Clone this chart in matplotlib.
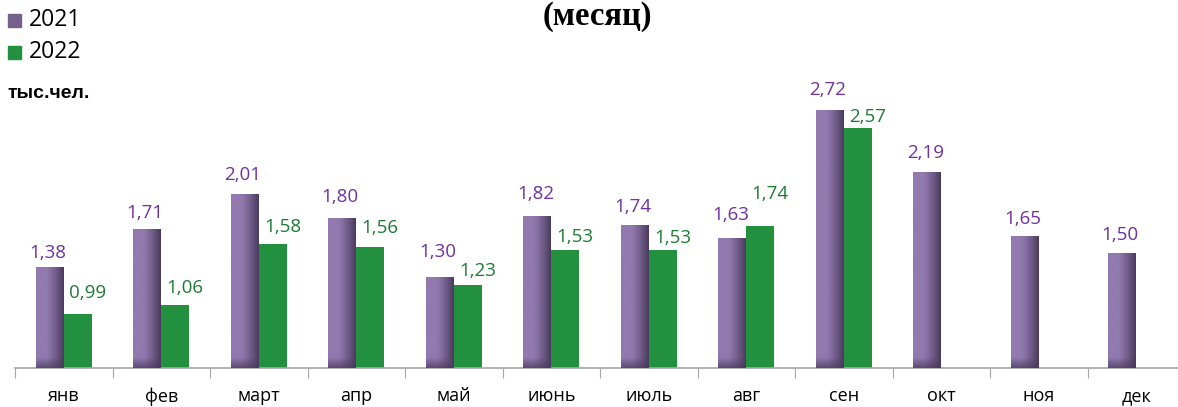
import matplotlib
matplotlib.use('Agg')
import matplotlib.pyplot as plt
import numpy as np

# data
months = ['янв', 'фев', 'март', 'апр', 'май', 'июнь', 'июль', 'авг', 'сен', 'окт', 'ноя', 'дек']
vals_2021 = [1.38, 1.71, 2.01, 1.80, 1.30, 1.82, 1.74, 1.63, 2.72, 2.19, 1.65, 1.50]
vals_2022 = [0.99, 1.06, 1.58, 1.56, 1.23, 1.53, 1.53, 1.74, 2.57]
series_names = ['2021', '2022']

# label gaps above the bar top (px), as placed in the original
gap_2021 = [10, 11, 14, 17, 20, 17, 14, 19, 16, 15, 12, 14]
gap_2022 = [16, 12, 12, 14, 9, 8, 7, 27, 6]

PURPLE_LIGHT = np.array([146, 122, 175]) / 255
PURPLE_DARK = np.array([74, 58, 94]) / 255
GREEN = '#22903e'
LBL_PURPLE = '#7030a0'
LBL_GREEN = '#1e7b34'
FONT = ['Open Sans', 'DejaVu Sans']
YMIN, YMAX = 0.526, 2.94


def fmt(v):
    return '{:.2f}'.format(v).replace('.', ',')


def purple_gradient(h):
    # horizontal shade light->dark, plus dark band near the base
    nx, ny = 60, 300
    t = np.linspace(0, 1, nx)
    hx = np.clip((t - 0.35) / 0.65, 0, 1) ** 1.3
    y = np.linspace(h, YMIN, ny)
    hy = np.clip(1 - (y - YMIN) / 0.09, 0, 1) * 0.75
    k = np.clip(hx[None, :] + hy[:, None] * (1 - hx[None, :]), 0, 1)
    return PURPLE_LIGHT[None, None, :] * (1 - k[..., None]) + PURPLE_DARK[None, None, :] * k[..., None]


fig = plt.figure(figsize=(11.78, 4.07), dpi=100)
ax = fig.add_axes([15 / 1178, 39 / 407, 1170 / 1178, 283 / 407])

x = np.arange(len(months))
w = 0.287
bars21 = ax.bar(x - w / 2, vals_2021, w, color=PURPLE_LIGHT, edgecolor='none', zorder=2)
bars22 = ax.bar(x[:len(vals_2022)] + w / 2, vals_2022, w, color=GREEN, edgecolor='none', zorder=2)

for b in bars21:
    bx, bw, bh = b.get_x(), b.get_width(), b.get_height()
    ax.imshow(purple_gradient(bh), extent=[bx, bx + bw, YMIN, bh], aspect='auto',
              interpolation='bilinear', zorder=3)

for b, v, g in zip(bars21, vals_2021, gap_2021):
    ax.annotate(fmt(v), (b.get_x() + b.get_width() / 2 - 0.02, v), xytext=(0, g * 0.72),
                textcoords='offset points', ha='center', va='baseline',
                color=LBL_PURPLE, fontsize=13.5, family=FONT)
for b, v, g in zip(bars22, vals_2022, gap_2022):
    ax.annotate(fmt(v), (b.get_x() + b.get_width() / 2 + 0.1, v), xytext=(0, g * 0.72),
                textcoords='offset points', ha='center', va='baseline',
                color=LBL_GREEN, fontsize=13.5, family=FONT)

ax.set_xlim(-0.5, 11.5)
ax.set_ylim(YMIN, YMAX)
ax.set_xticks(np.arange(-0.5, 12, 1))
ax.set_xticklabels([])
ax.set_xticks(x, minor=True)
ax.set_xticklabels(months, minor=True, fontsize=13, family=FONT)
ax.tick_params(axis='x', which='major', length=7, color='#a6a6a6', direction='out')
ax.tick_params(axis='x', which='minor', length=0, pad=14)
ax.set_yticks([])
for s in ['top', 'right', 'left']:
    ax.spines[s].set_visible(False)
ax.spines['bottom'].set_color('#a6a6a6')
ax.spines['bottom'].set_linewidth(1.2)
ax.set_facecolor('none')

# title, legend, units
fig.text(0.507, 1 - 16 / 407, '(месяц)', ha='center', va='center', fontsize=23.5,
         fontweight='bold', family=['Liberation Serif', 'DejaVu Serif'])
leg_cols = [PURPLE_LIGHT * 0.8, GREEN]
for i, (name, c) in enumerate(zip(series_names, leg_cols)):
    yy = 1 - (20 + 32 * i) / 407
    fig.patches.append(plt.Rectangle((8 / 1178, yy - 6.5 / 407), 13 / 1178, 13 / 407,
                                     transform=fig.transFigure, color=c, figure=fig))
    fig.text(29 / 1178, yy, name, ha='left', va='center', fontsize=16.5, family=FONT)
fig.text(8 / 1178, 1 - 93 / 407, 'тыс.чел.', ha='left', va='center', fontsize=14,
         fontweight='bold', family=['Liberation Sans', 'DejaVu Sans'])

fig.savefig('out.png', dpi=100)
